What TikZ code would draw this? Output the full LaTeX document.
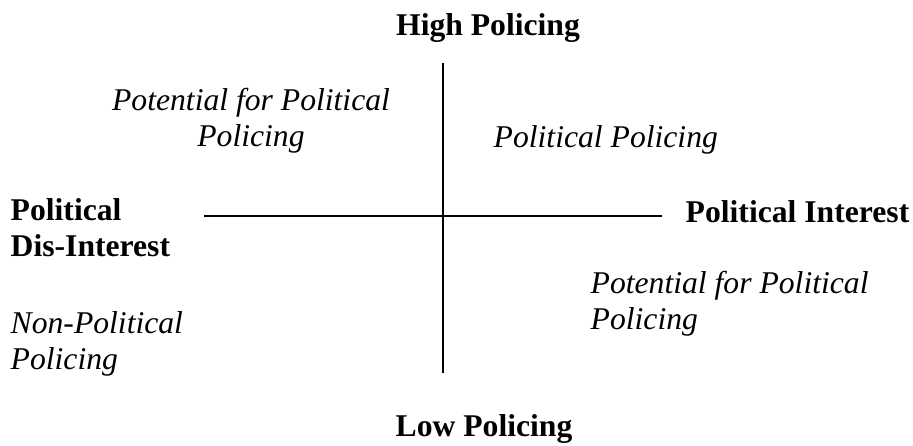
\documentclass[tikz,border=0pt]{standalone}
\usepackage{fontspec}
\setmainfont{Liberation Serif}
\usetikzlibrary{positioning}

\begin{document}
\begin{tikzpicture}[x=0.01cm,y=-0.01cm,
   every node/.style={font=\fontsize{9}{10.2}\selectfont, inner sep=0pt},
   axislabel/.style={font=\fontsize{9}{10.2}\selectfont\bfseries},
   quadrant/.style={font=\fontsize{9}{10.2}\selectfont\itshape}]
\useasboundingbox (0,0) rectangle (913,445);
% axes
\coordinate (top) at (443,63);
\coordinate (bottom) at (443,373);
\coordinate (left) at (204,216);
\coordinate (right) at (662,216);
\draw[line width=0.5pt] (top) -- (bottom);
\draw[line width=0.5pt] (left) -- (right);
% axis labels
\node[axislabel,anchor=base] (high) at (488,35) {High Policing};
\node[axislabel,anchor=base] (low) at (484,436) {Low Policing};
\node[axislabel,anchor=base west] (interest) at (685,222) {Political Interest};
\node[axislabel,anchor=north west,align=left] (disinterest) at (10,198) {Political\\Dis-Interest};
% quadrants
\node[quadrant,anchor=north,align=center] (tl) at (251,88) {Potential for Political\\Policing};
\node[quadrant,anchor=base west] (tr) at (493,147) {Political Policing};
\node[quadrant,anchor=north west,align=left] (br) at (590,271) {Potential for Political\\Policing};
\node[quadrant,anchor=north west,align=left] (bl) at (10,311) {Non-Political\\Policing};
\end{tikzpicture}
\end{document}
